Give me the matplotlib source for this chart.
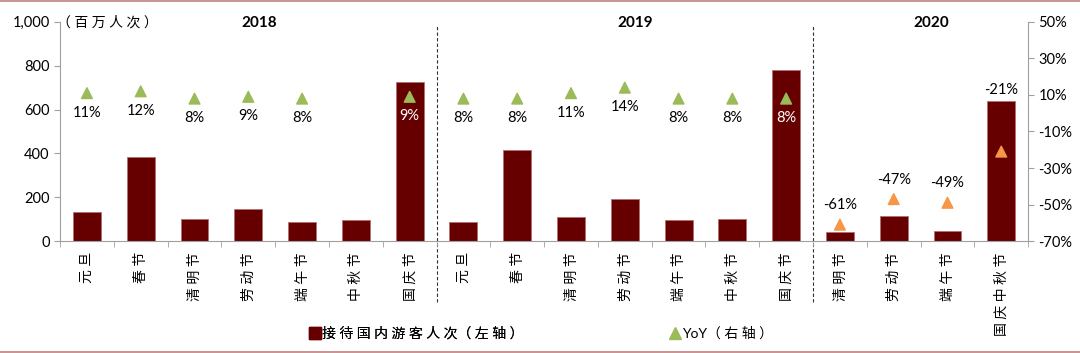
import matplotlib
matplotlib.use('Agg')
import matplotlib.pyplot as plt
from matplotlib.lines import Line2D
import numpy as np

plt.rcParams['font.family'] = ['Lato', 'Noto Sans CJK SC', 'DejaVu Sans']

categories = ['元旦', '春节', '清明节', '劳动节', '端午节', '中秋节', '国庆节',
              '元旦', '春节', '清明节', '劳动节', '端午节', '中秋节', '国庆节',
              '清明节', '劳动节', '端午节', '国庆中秋节']
visitors = [131, 385, 99, 145, 87, 96, 727,
            87, 414, 110, 192, 94, 102, 782,
            41, 113, 46, 638]
yoy = [11, 12, 8, 9, 8, np.nan, 9,
       8, 8, 11, 14, 8, 8, 8,
       -61, -47, -49, -21]
years = ['2018', '2019', '2020']
year_groups = [(0, 6), (7, 13), (14, 17)]

bar_color = '#660000'
pos_color = '#9bbb59'
neg_color = '#f79646'
frame_color = '#c08080'
axis_color = '#a0a0a0'


def spaced(s):
    # the original uses loosely spaced CJK characters
    return ' '.join(s)


fig = plt.figure(figsize=(10.8, 3.53), dpi=100)
ax = fig.add_axes([0.0556, 0.317, 0.8964, 0.621])
ax2 = ax.twinx()

x = np.arange(len(categories))
ax.bar(x, visitors, width=0.52, color=bar_color, edgecolor='#b07070', linewidth=0.6, zorder=2)
ax.set_xlim(-0.5, len(categories) - 0.5)
ax.set_ylim(0, 1000)
ax.set_yticks(range(0, 1001, 200))
ax.set_yticklabels(['0', '200', '400', '600', '800', '1,000'], fontsize=10.5)

ax.set_xticks(x)
ax.set_xticklabels([spaced(c) for c in categories], rotation=90, fontsize=10, va='top')
ax.set_xticks(np.arange(-0.5, len(categories), 1), minor=True)
ax.tick_params(axis='x', which='major', length=0, pad=8)
ax.tick_params(axis='x', which='minor', length=4, color=axis_color)
ax.tick_params(axis='y', length=4, color=axis_color)

ax2.set_ylim(-70, 50)
ax2.set_yticks(range(-70, 51, 20))
ax2.set_yticklabels([f'{v}%' for v in range(-70, 51, 20)], fontsize=10.5)
ax2.tick_params(axis='y', length=4, color=axis_color)

for a in (ax, ax2):
    a.spines['top'].set_visible(False)
    for s in ('left', 'right', 'bottom'):
        a.spines[s].set_color(axis_color)
ax.spines['right'].set_visible(False)
ax2.spines['left'].set_visible(False)
ax2.spines['bottom'].set_visible(False)

yoy_arr = np.array(yoy, dtype=float)
colors = [pos_color if v >= 0 else neg_color for v in yoy_arr]
ax2.scatter(x, yoy_arr, marker='^', s=60, c=colors, zorder=3)

# label offsets in points: positive below marker, negative above
for i, v in enumerate(yoy_arr):
    if np.isnan(v):
        continue
    if v >= 0:
        dy = -14
        col = 'white' if visitors[i] > 600 else 'black'
    else:
        dy = 14
        col = 'black'
    if categories[i] == '国庆中秋节':
        dy = 44
    ax2.annotate(f'{int(v)}%', (i, v), xytext=(0, dy), textcoords='offset points',
                 ha='center', va='center', fontsize=10.5, color=col)

# dashed year separators
for start, end in year_groups[:-1]:
    ax.plot([end + 0.5, end + 0.5], [-280, 985], color='#303030',
            linestyle=(0, (3, 2)), linewidth=0.8, clip_on=False, zorder=1)

for name, (start, end) in zip(years, year_groups):
    ax.text((start + end) / 2 + 0.2, 995, name, ha='center', va='center',
            fontsize=11, fontweight='bold')

ax.text(-0.55, 1000, '（ ' + spaced('百万人次') + ' ）', ha='left', va='center', fontsize=10)

leg1 = fig.legend([Line2D([], [], marker='s', linestyle='', color=bar_color, markersize=8)],
                  [spaced('接待国内游客人次') + '（ 左 轴 ）'], loc='center left',
                  bbox_to_anchor=(0.275, 0.057), frameon=False, fontsize=10,
                  handletextpad=0.1, handlelength=0.8)
fig.add_artist(leg1)
fig.legend([Line2D([], [], marker='^', linestyle='', color=pos_color, markersize=8)],
           ['YoY（ 右 轴 ）'], loc='center left', bbox_to_anchor=(0.608, 0.057),
           frameon=False, fontsize=10, handletextpad=0.1, handlelength=0.8)

fig.add_artist(Line2D([0, 1], [0.998, 0.998], color=frame_color, linewidth=1.2))
fig.add_artist(Line2D([0, 1], [0.004, 0.004], color=frame_color, linewidth=1.2))

fig.savefig('out.png', dpi=100)
